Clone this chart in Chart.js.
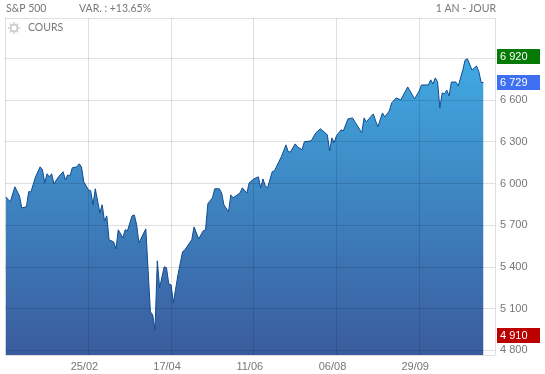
<!DOCTYPE html>
<html>
<head>
<meta charset="utf-8">
<script src="https://cdn.jsdelivr.net/npm/chart.js@4"></script>
<style>
  html, body { margin: 0; padding: 0; background: #fff; }
  #wrap { width: 545px; height: 374px; position: relative; }
</style>
</head>
<body>
<div id="wrap"><canvas id="chart"></canvas></div>
<script>
// sessions counted from the first day on the chart, closes
const sessions = [
  0, 2, 4, 6, 7, 9, 10, 11, 13, 15, 16, 17, 18, 19, 20, 21, 23, 25, 26, 27,
  28, 29, 31, 32, 33, 34, 36, 37, 38, 39, 41, 42, 43, 44, 45, 47, 48, 49, 51, 52,
  53, 55, 56, 57, 58, 61, 63, 64, 65, 66, 67, 69, 70, 71, 72, 73, 75, 77, 78, 81,
  82, 84, 86, 87, 88, 90, 91, 93, 94, 95, 97, 98, 99, 102, 103, 105, 106, 108, 110, 111,
  112, 113, 114, 116, 117, 120, 122, 123, 124, 126, 127, 129, 130, 133, 135, 137, 140, 141, 142, 143,
  144, 146, 147, 149, 151, 152, 155, 156, 157, 160, 162, 164, 165, 167, 168, 170, 172, 175, 178, 180,
  181, 183, 184, 185, 186, 187, 188, 189, 190, 191, 192, 193, 194, 196, 197, 199, 200, 201, 203, 205,
  206, 207, 208
];
const closes = [
  5905, 5869, 5977, 5912, 5826, 5833, 5942, 5942, 6049, 6121, 6100, 6006, 6071, 6049, 6071, 5999, 6049, 6086, 6027, 6063,
  6056, 6114, 6121, 6143, 6121, 6013, 5956, 5949, 5848, 5963, 5790, 5848, 5732, 5768, 5596, 5581, 5531, 5668, 5610, 5668,
  5661, 5768, 5775, 5704, 5574, 5675, 5078, 5057, 4949, 5445, 5251, 5402, 5395, 5279, 5272, 5143, 5345, 5510, 5524, 5596,
  5689, 5603, 5661, 5668, 5855, 5898, 5963, 5963, 5933, 5848, 5797, 5919, 5898, 5933, 5970, 5933, 6006, 6034, 6049, 5970,
  6034, 5984, 5970, 6085, 6093, 6194, 6279, 6229, 6229, 6286, 6265, 6244, 6301, 6308, 6366, 6395, 6352, 6236, 6329, 6294,
  6345, 6387, 6380, 6466, 6473, 6445, 6366, 6473, 6445, 6502, 6408, 6509, 6480, 6523, 6581, 6617, 6603, 6696, 6610, 6667,
  6710, 6710, 6710, 6747, 6717, 6761, 6731, 6545, 6653, 6646, 6674, 6631, 6731, 6731, 6703, 6818, 6890, 6898, 6818, 6847,
  6804, 6727, 6729
];
const xTickSessions = [36, 72, 108, 144, 180];
const xTickLabels = ['25/02', '17/04', '11/06', '06/08', '29/09'];
const yTicks = [4800, 5100, 5400, 5700, 6000, 6300, 6600, 6900];
const priceTags = [
  { value: 6920, color: '#067a06' },
  { value: 6729, color: '#3d6ff0' },
  { value: 4910, color: '#bb0000' }
];

const grey = '#777';
const xMin = -0.3, xMax = 213;
const yMin = 4767, yMax = 7192;

function spaced(v) {
  return String(v).replace(/(\d)(\d{3})$/, '$1 $2');
}

const headerPlugin = {
  id: 'header',
  afterDraw(chart) {
    const c = chart.ctx;
    const area = chart.chartArea;
    c.save();
    // top row
    c.fillStyle = grey;
    c.font = '10.5px Lato';
    c.textBaseline = 'middle';
    c.textAlign = 'left';
    c.fillText('S&P 500', 6, 9);
    c.fillText('VAR. : +13.65%', 79, 9);
    c.textAlign = 'right';
    c.fillText('1 AN - JOUR', 496, 9);
    // series name with its gear
    c.textAlign = 'left';
    c.fillText('COURS', 28, 28);
    c.strokeStyle = '#ccc';
    c.lineWidth = 2;
    c.beginPath();
    c.arc(14, 28, 3.5, 0, Math.PI * 2);
    c.stroke();
    c.lineWidth = 1.5;
    c.beginPath();
    for (let i = 0; i < 8; i++) {
      const a = i * Math.PI / 4;
      c.moveTo(14 + Math.cos(a) * 4.5, 28 + Math.sin(a) * 4.5);
      c.lineTo(14 + Math.cos(a) * 6, 28 + Math.sin(a) * 6);
    }
    c.stroke();
    // high, last and low tags
    c.font = '11px "Liberation Sans"';
    priceTags.forEach(t => {
      const y = chart.scales.y.getPixelForValue(t.value);
      c.fillStyle = t.color;
      c.fillRect(area.right + 2, Math.round(y) - 7, 43, 15);
      c.fillStyle = '#fff';
      c.fillText(spaced(t.value), area.right + 5, Math.round(y) + 1);
    });
    c.restore();
  }
};

new Chart(document.getElementById('chart'), {
  type: 'line',
  data: {
    datasets: [{
      label: 'COURS',
      data: sessions.map((s, i) => ({ x: s, y: closes[i] })),
      borderColor: '#0f4c92',
      borderWidth: 1,
      pointRadius: 0,
      tension: 0,
      fill: 'start',
      backgroundColor(ctx) {
        const area = ctx.chart.chartArea;
        if (!area) return '#3c86c0';
        const g = ctx.chart.ctx.createLinearGradient(0, 55, 0, area.bottom);
        g.addColorStop(0, '#41aae2');
        g.addColorStop(1, '#3a5b9d');
        return g;
      }
    }]
  },
  options: {
    animation: false,
    responsive: true,
    maintainAspectRatio: false,
    layout: { padding: { left: 5, top: 18, right: 0, bottom: 0 } },
    plugins: {
      legend: { display: false },
      tooltip: { enabled: false }
    },
    scales: {
      x: {
        type: 'linear',
        min: xMin,
        max: xMax,
        afterBuildTicks(axis) {
          axis.ticks = [xMin].concat(xTickSessions, xMax).map(v => ({ value: v }));
        },
        afterFit(axis) { axis.height = 19; },
        grid: { color: 'rgba(0,0,0,0.12)', z: 1, drawTicks: false },
        border: { display: false },
        ticks: {
          color: grey,
          font: { family: 'Liberation Sans', size: 11 },
          padding: 5,
          labelOffset: -4,
          maxRotation: 0,
          autoSkip: false,
          callback(v) {
            const i = xTickSessions.indexOf(v);
            return i < 0 ? '' : xTickLabels[i];
          }
        }
      },
      y: {
        position: 'right',
        min: yMin,
        max: yMax,
        afterBuildTicks(axis) {
          axis.ticks = [yMin].concat(yTicks, yMax).map(v => ({ value: v }));
        },
        afterFit(axis) { axis.width = 50; },
        grid: { color: 'rgba(0,0,0,0.12)', z: 1, drawTicks: false },
        border: { display: false },
        ticks: {
          color: grey,
          font: { family: 'Liberation Sans', size: 11 },
          padding: 5,
          autoSkip: false,
          callback(v) {
            return yTicks.includes(v) ? spaced(v) : '';
          }
        }
      }
    }
  },
  plugins: [headerPlugin]
});
</script>
</body>
</html>
